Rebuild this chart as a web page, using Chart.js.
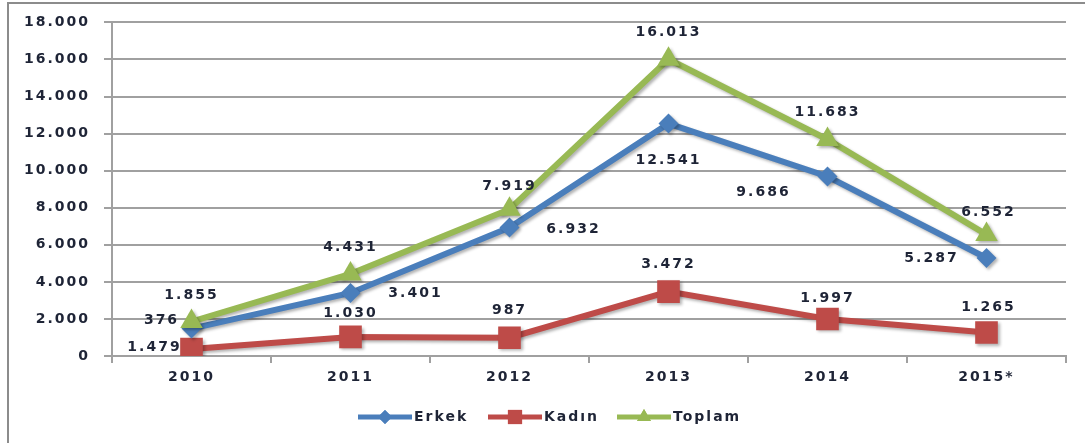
<!DOCTYPE html>
<html>
<head>
<meta charset="utf-8">
<script src="https://cdn.jsdelivr.net/npm/chart.js@4/dist/chart.umd.min.js"></script>
<style>
  html, body { margin: 0; padding: 0; background: #fff; }
  #wrap { width: 1085px; height: 443px; position: relative; }
</style>
</head>
<body>
<div id="wrap"><canvas id="chart"></canvas></div>
<script>
const years = ['2010', '2011', '2012', '2013', '2014', '2015*'];
const erkek = [1479, 3401, 6932, 12541, 9686, 5287];
const kadin = [376, 1030, 987, 3472, 1997, 1265];
const toplam = [1855, 4431, 7919, 16013, 11683, 6552];

const BLUE = '#4a7ebb';
const RED = '#be4b48';
const GREEN = '#98b954';
const TXT = '#1e2436';
const FONT = 'bold 14px "DejaVu Sans"';

// label offsets from each point (dx, dy), in pixels
const labelPos = {
  0: [[-37, 19], [65, 0], [64, 2], [0, 37], [-64, 16], [-55, 0]],
  1: [[-30, -29], [0, -24], [0, -27], [0, -27], [0, -21], [2, -25]],
  2: [[0, -26], [0, -27], [0, -23], [0, -27], [0, -27], [2, -22]]
};

function fmt(v) {
  return String(v).replace(/\B(?=(\d{3})+(?!\d))/g, '.');
}

const setup = {
  id: 'setup',
  beforeDraw(chart) {
    const ctx = chart.ctx;
    ctx.letterSpacing = '2px';
    ctx.save();
    ctx.strokeStyle = '#8c8c8c';
    ctx.lineWidth = 2;
    ctx.beginPath();
    ctx.moveTo(8, 443);
    ctx.lineTo(8, 3);
    ctx.lineTo(1085, 3);
    ctx.stroke();
    ctx.restore();
  },
  beforeDatasetsDraw(chart) {
    const ctx = chart.ctx;
    ctx.save();
    ctx.shadowColor = 'rgba(0,0,0,0.3)';
    ctx.shadowBlur = 3;
    ctx.shadowOffsetX = 2;
    ctx.shadowOffsetY = 2;
  },
  afterDatasetsDraw(chart) {
    const ctx = chart.ctx;
    ctx.restore();
    ctx.save();
    ctx.font = FONT;
    ctx.fillStyle = TXT;
    ctx.textAlign = 'center';
    ctx.textBaseline = 'middle';
    chart.data.datasets.forEach((ds, i) => {
      const meta = chart.getDatasetMeta(i);
      meta.data.forEach((pt, j) => {
        const off = labelPos[i][j];
        ctx.fillText(fmt(ds.data[j]), pt.x + off[0], pt.y + off[1]);
      });
    });
    ctx.restore();
  },
  afterDraw(chart) {
    const ctx = chart.ctx;
    const items = [
      { text: 'Erkek', color: BLUE, style: 'rectRot', r: 7, x: 358 },
      { text: 'Kadın', color: RED, style: 'rect', r: 10, x: 488 },
      { text: 'Toplam', color: GREEN, style: 'triangle', r: 8, x: 617 }
    ];
    const y = 417;
    ctx.save();
    items.forEach(it => {
      ctx.strokeStyle = it.color;
      ctx.lineWidth = 5;
      ctx.beginPath();
      ctx.moveTo(it.x, y);
      ctx.lineTo(it.x + 54, y);
      ctx.stroke();
      ctx.fillStyle = it.color;
      Chart.helpers.drawPoint(ctx, { pointStyle: it.style, radius: it.r, borderWidth: 0 }, it.x + 27, y);
      ctx.fill();
      ctx.font = FONT;
      ctx.fillStyle = TXT;
      ctx.textAlign = 'left';
      ctx.textBaseline = 'middle';
      ctx.fillText(it.text, it.x + 56, y);
    });
    ctx.restore();
  }
};

new Chart(document.getElementById('chart'), {
  type: 'line',
  data: {
    labels: years,
    datasets: [
      {
        label: 'Erkek', data: erkek, order: 1,
        borderColor: BLUE, backgroundColor: BLUE, borderWidth: 6,
        pointStyle: 'rectRot', pointRadius: 10, pointBorderWidth: 0
      },
      {
        label: 'Kadın', data: kadin, order: 2,
        borderColor: RED, backgroundColor: RED, borderWidth: 6,
        pointStyle: 'rect', pointRadius: 16, pointBorderWidth: 0
      },
      {
        label: 'Toplam', data: toplam, order: 0,
        borderColor: GREEN, backgroundColor: GREEN, borderWidth: 6,
        pointStyle: 'triangle', pointRadius: 13, pointBorderWidth: 0
      }
    ]
  },
  options: {
    responsive: true,
    maintainAspectRatio: false,
    animation: false,
    layout: { padding: { top: 22, right: 19, left: 0, bottom: 0 } },
    plugins: {
      legend: { display: false },
      tooltip: { enabled: false }
    },
    scales: {
      x: {
        offset: true,
        afterFit(scale) { scale.height = 87; },
        grid: { offset: true, drawOnChartArea: false, drawTicks: true, tickLength: 7, color: '#a0a0a0', lineWidth: 2 },
        border: { color: '#a0a0a0', width: 2 },
        ticks: { color: TXT, font: { family: 'DejaVu Sans', size: 14, weight: 'bold' }, padding: 6 }
      },
      y: {
        min: 0, max: 18000,
        afterFit(scale) { scale.width = 112; },
        grid: { color: '#a0a0a0', lineWidth: 2, tickLength: 8 },
        border: { color: '#a0a0a0', width: 2 },
        ticks: {
          stepSize: 2000, color: TXT, padding: 14,
          font: { family: 'DejaVu Sans', size: 14, weight: 'bold' },
          callback: v => fmt(v)
        }
      }
    }
  },
  plugins: [setup]
});
</script>
</body>
</html>
